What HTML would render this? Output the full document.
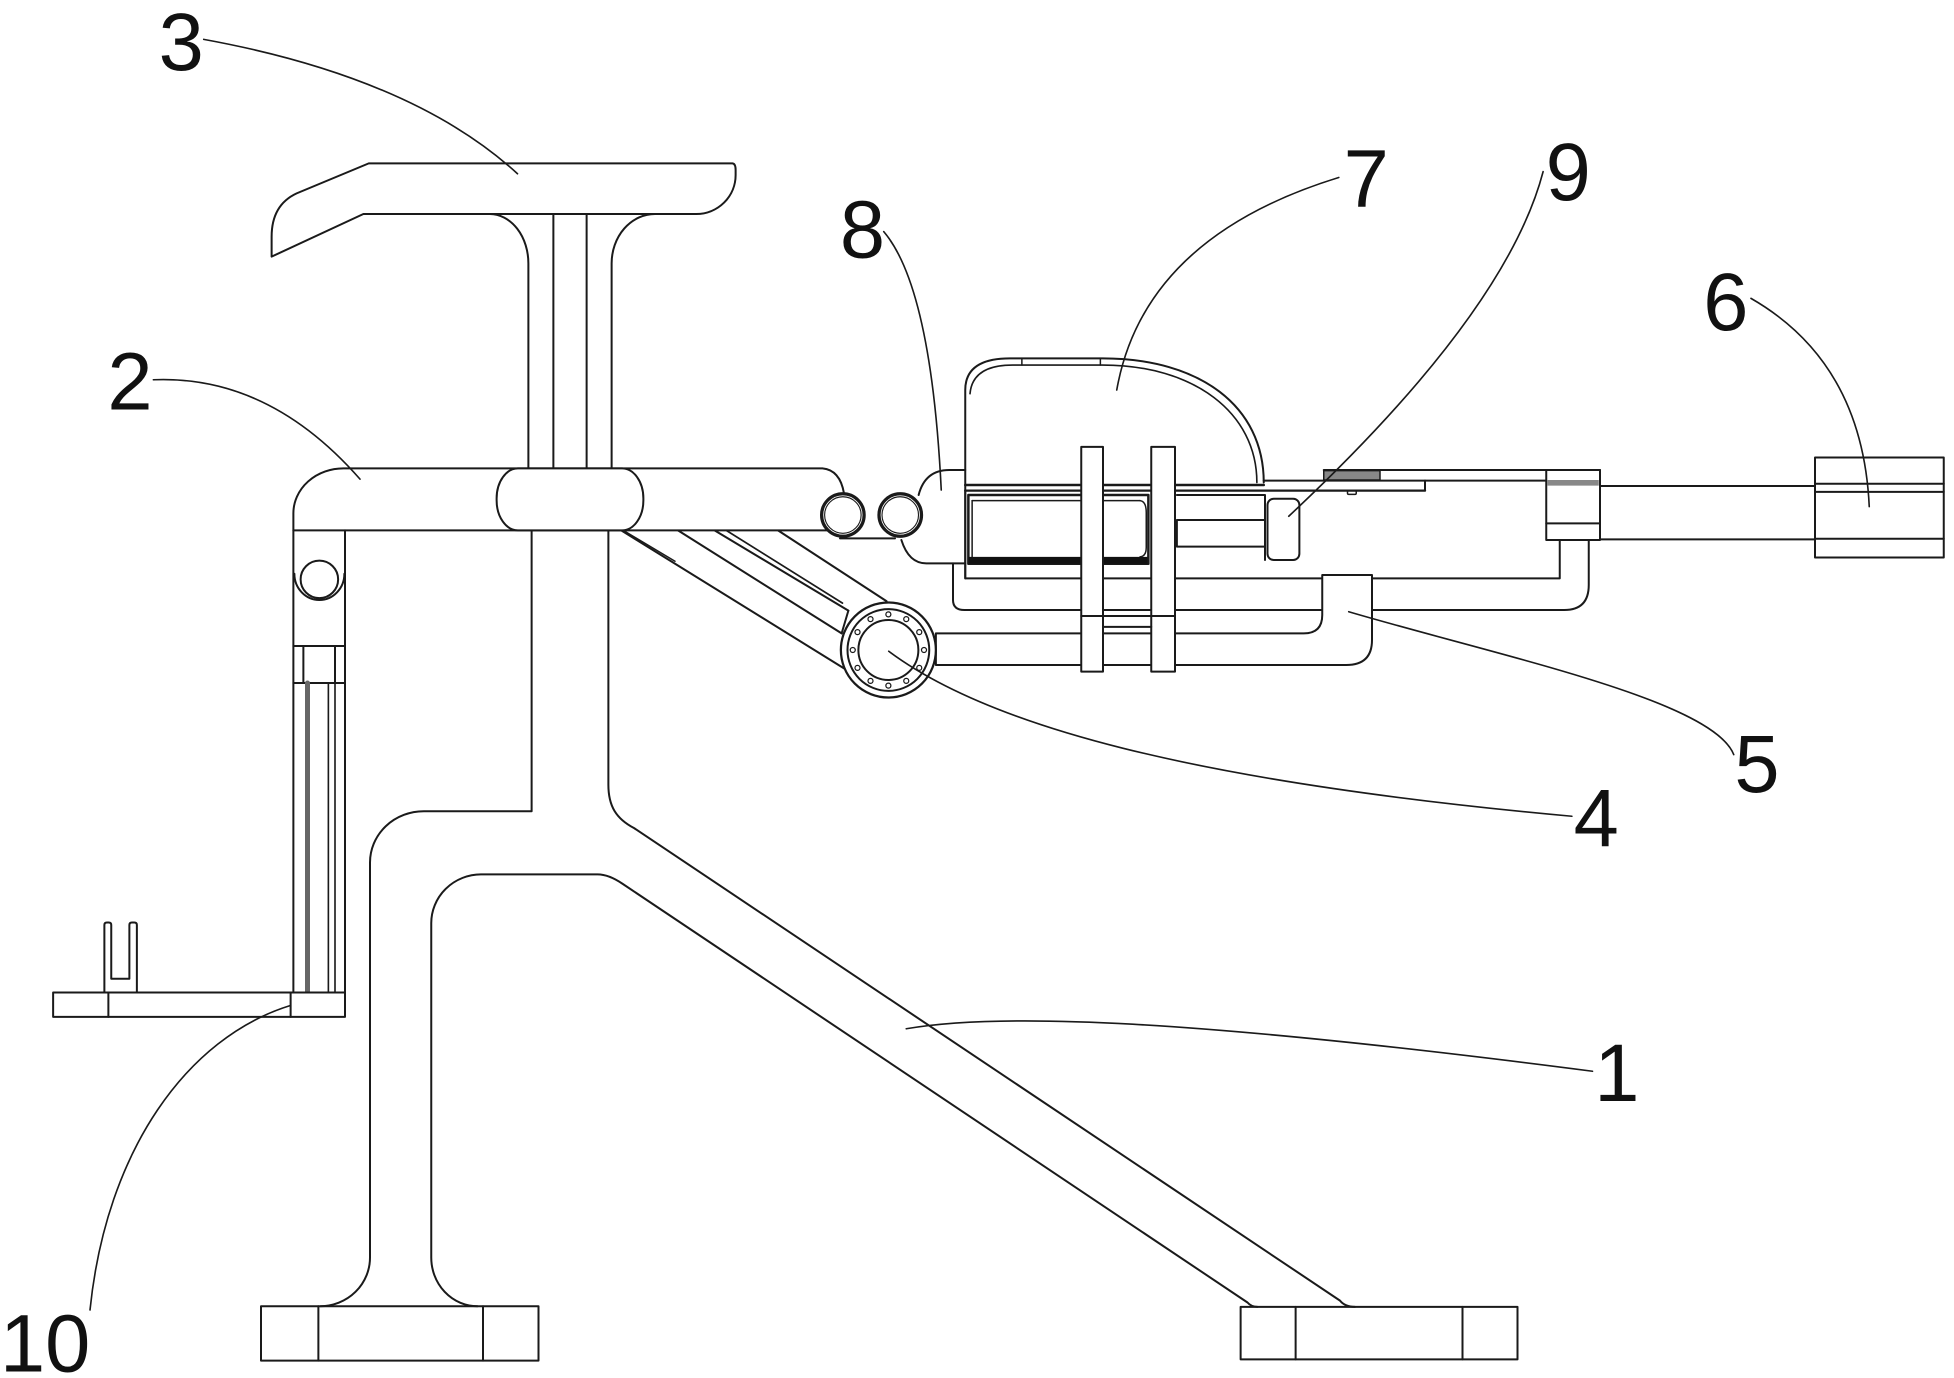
<!DOCTYPE html>
<html>
<head>
<meta charset="utf-8">
<style>
html,body{margin:0;padding:0;background:#fff;}
svg{display:block;}
text{font-family:"Liberation Sans",Arial,sans-serif;fill:#111;}
</style>
</head>
<body>
<svg xmlns="http://www.w3.org/2000/svg" width="1954" height="1378" viewBox="0 0 1563.2 1102.4">
<rect x="0" y="0" width="1563.2" height="1102.4" fill="#fff"/>
<g fill="none" stroke="#1a1a1a" stroke-width="1.6" stroke-linejoin="round" stroke-linecap="round">

<!-- Base leg (1) -->
<path d="M425.3 424 L425.3 649 L339 649 A43 41 0 0 0 296 690 L296 1005.7 A40 39 0 0 1 256.3 1045"/>
<path d="M486.7 424 L486.7 627.8 C486.7 645 493 655 507.3 662.5 L1072 1040.5 Q1076 1045.5 1084 1045.5"/>
<path d="M1006 1045.5 Q1001 1045.5 998 1042 L498 707 Q487 699.5 478 699.5 L384.8 699.5 A40 39 0 0 0 345 738.6 L345 1005.7 A37 39 0 0 0 382 1045"/>
<rect x="208.8" y="1045" width="222" height="43.5"/>
<line x1="254.7" y1="1045" x2="254.7" y2="1088.5"/>
<line x1="386.4" y1="1045" x2="386.4" y2="1088.5"/>
<rect x="992.5" y="1045.5" width="221.5" height="42"/>
<line x1="1036.5" y1="1045.5" x2="1036.5" y2="1087.5"/>
<line x1="1170" y1="1045.5" x2="1170" y2="1087.5"/>

<!-- Post above bar -->
<path d="M392 171.2 A31 39.5 0 0 1 422.7 210.7 L422.7 374.7"/>
<path d="M524 171.2 A34.7 39.5 0 0 0 489.3 210.7 L489.3 374.7"/>
<line x1="442.7" y1="171.2" x2="442.7" y2="374.7"/>
<line x1="469.3" y1="171.2" x2="469.3" y2="374.7"/>

<!-- Seat (3) -->
<path d="M295 130.7 L586 130.7 Q588.5 131 588.5 136 L588.5 140 A31.5 31.2 0 0 1 557 171.2 L290.7 171.2 L217.3 205.3 L217.3 189.3 Q217.3 164 237.3 154.7 Z" fill="#fff"/>

<!-- Bar (2) -->
<path d="M234.7 424.3 L234.7 410.7 A40 36 0 0 1 275 374.7 L658 374.7 Q672 376 675.2 394.7"/>
<line x1="234.7" y1="424.3" x2="662" y2="424.3"/>
<rect x="397.3" y="374.7" width="117.4" height="49.6" rx="17" ry="24" fill="#fff"/>

<!-- Leg assembly (10) -->
<line x1="234.7" y1="424.3" x2="234.7" y2="794"/>
<line x1="276" y1="424.3" x2="276" y2="794"/>
<line x1="234.7" y1="516.8" x2="276" y2="516.8"/>
<line x1="234.7" y1="546.4" x2="276" y2="546.4"/>
<line x1="242.7" y1="516.8" x2="242.7" y2="546.4"/>
<line x1="268" y1="516.8" x2="268" y2="546.4"/>
<line x1="246" y1="546.4" x2="246" y2="794" stroke="#666" stroke-width="4"/>
<line x1="262.7" y1="546.4" x2="262.7" y2="794" stroke-width="1.3"/>
<line x1="268" y1="546.4" x2="268" y2="794" stroke-width="1.3"/>
<circle cx="255.5" cy="463.5" r="15"/>
<path d="M235.5 459 A20 21 0 0 0 275.5 459"/>
<rect x="42.5" y="794" width="233.5" height="19.5" fill="#fff"/>
<line x1="86.7" y1="794" x2="86.7" y2="813.5"/>
<line x1="232.5" y1="794" x2="232.5" y2="813.5"/>
<path d="M83.5 794 L83.5 740 Q83.5 738 85.5 738 L87 738 Q89 738 89 740 L89 783 L103.5 783 L103.5 740 Q103.5 738 105.5 738 L107.5 738 Q109.5 738 109.5 740 L109.5 794"/>

<!-- Arm -->
<line x1="497.3" y1="424.5" x2="677.3" y2="536"/>
<line x1="499" y1="424.5" x2="540" y2="449" stroke-width="1.2"/>
<line x1="542.7" y1="424.5" x2="673.3" y2="506.7"/>
<line x1="572" y1="424.5" x2="678.7" y2="488.5"/>
<line x1="581.3" y1="424.5" x2="674" y2="482.5" stroke-width="1.3"/>
<line x1="622.7" y1="424.5" x2="709.3" y2="481"/>
<line x1="678.7" y1="488.5" x2="673.3" y2="506.7"/>

<!-- Frames -->
<path d="M772.2 392 L772.2 462.7 L1247.8 462.7 L1247.8 432"/>
<path d="M762.4 450.7 L762.4 480 Q762.4 488 771.6 488 L1251.4 488 Q1271 488 1271 468 L1271 432"/>

<!-- Part 5 -->
<path d="M748.7 506.7 L1043 506.7 Q1057.8 506.7 1057.8 492 L1057.8 460 L1097.6 460 L1097.6 512 Q1097.6 532 1077 532 L748.7 532 Z" fill="#fff"/>

<!-- Part 7 body -->
<path d="M772.2 462.7 L772.2 312 Q772.2 286.7 808 286.7 L882 286.7 C960 286.7 1011 325 1011 386"/>
<path d="M776 315 Q778 292 810 292 L882 292 C955 292 1005.5 330 1005.5 386" stroke-width="1.3"/>
<line x1="817.5" y1="286.7" x2="817.5" y2="292" stroke-width="1.2"/>
<line x1="880.3" y1="286.7" x2="880.3" y2="292" stroke-width="1.2"/>

<!-- rails -->
<line x1="772.2" y1="388" x2="1011" y2="388" stroke-width="2"/>
<line x1="772.2" y1="392.5" x2="1140" y2="392.5" stroke-width="1.8"/>
<line x1="1011" y1="384.5" x2="1239" y2="384.5"/>
<line x1="1140" y1="384.5" x2="1140" y2="392.5"/>
<line x1="1059" y1="376" x2="1280" y2="376"/>
<rect x="1059" y="376.5" width="45" height="7.5" fill="#888" stroke-width="1.2"/>
<rect x="1078" y="392.5" width="7" height="3" rx="1" stroke-width="1.2"/>

<!-- cylinder -->
<rect x="774.7" y="396" width="144" height="55" stroke-width="2"/>
<line x1="777.7" y1="400.5" x2="912" y2="400.5" stroke-width="1.2"/>
<line x1="777.7" y1="400.5" x2="777.7" y2="445.5" stroke-width="1.2"/>
<path d="M912 400.5 Q917 401 917 410 L917 438 Q917 445 912 445.5" stroke-width="1.2"/>
<rect x="775" y="445.5" width="143" height="5.5" fill="#111" stroke="none"/>

<!-- rod & 9 -->
<rect x="941.5" y="416" width="70.5" height="21.3"/>
<path d="M941.5 396 L1012 396 L1012 448"/>
<rect x="1014" y="399" width="25.5" height="49" rx="5"/>

<!-- right bracket -->
<rect x="1237" y="376" width="43" height="56" fill="#fff"/>
<rect x="1238" y="384" width="41" height="4.5" fill="#888" stroke="none"/>
<line x1="1237" y1="418.7" x2="1280" y2="418.7"/>

<!-- rod to 6 -->
<line x1="1280" y1="388.8" x2="1452" y2="388.8"/>
<line x1="1280" y1="431.5" x2="1452" y2="431.5"/>
<rect x="1452" y="366" width="103" height="80" fill="#fff"/>
<line x1="1452" y1="387" x2="1555" y2="387"/>
<line x1="1452" y1="393.5" x2="1555" y2="393.5"/>
<line x1="1452" y1="431" x2="1555" y2="431"/>

<!-- clamp plates -->
<rect x="865" y="357.5" width="17.4" height="179.8" fill="#fff"/>
<rect x="921" y="357.5" width="19" height="179.8" fill="#fff"/>
<line x1="865" y1="492.8" x2="940" y2="492.8"/>
<line x1="882.4" y1="501.5" x2="921" y2="501.5"/>

<!-- part 8 and hinge circles -->
<path d="M734.9 396 Q740 376 759.4 376 L772.2 376"/>
<path d="M721.1 432 Q727 450.7 741 450.7 L772.2 450.7"/>
<line x1="672" y1="430.7" x2="716" y2="430.7"/>
<circle cx="674.3" cy="412" r="17" fill="#fff" stroke-width="2.6"/>
<circle cx="674.3" cy="412" r="14.6" stroke-width="0.9"/>
<circle cx="720.2" cy="412" r="17" fill="#fff" stroke-width="2.6"/>
<circle cx="720.2" cy="412" r="14.6" stroke-width="0.9"/>

<!-- part 4 circle -->
<circle cx="710.7" cy="520" r="38" fill="#fff" stroke-width="1.8"/>
<circle cx="710.7" cy="520" r="32.7"/>
<circle cx="710.7" cy="520" r="24"/>
<g stroke-width="1">
<circle cx="739.2" cy="520" r="2"/>
<circle cx="735.4" cy="534.3" r="2"/>
<circle cx="725" cy="544.7" r="2"/>
<circle cx="710.7" cy="548.5" r="2"/>
<circle cx="696.4" cy="544.7" r="2"/>
<circle cx="686" cy="534.3" r="2"/>
<circle cx="682.2" cy="520" r="2"/>
<circle cx="686" cy="505.7" r="2"/>
<circle cx="696.4" cy="495.3" r="2"/>
<circle cx="710.7" cy="491.5" r="2"/>
<circle cx="725" cy="495.3" r="2"/>
<circle cx="735.4" cy="505.7" r="2"/>
</g>

<!-- leaders -->
<g stroke-width="1.3">
<path d="M163 31.5 Q330 62 414 139"/>
<path d="M122.7 303.8 Q215 300 288 383.3"/>
<path d="M707 185.3 Q745 230 753 392"/>
<path d="M1071 142 Q915 190 893.4 312"/>
<path d="M1234.5 137.3 Q1205 250 1031 413"/>
<path d="M1400.8 238.7 Q1490 290 1495.4 405.3"/>
<path d="M1079 489.4 C1200 525 1370 560 1387 603.7"/>
<path d="M711 521 C790 580 950 625 1257.5 653"/>
<path d="M725 823 C800 810 950 815 1274 857"/>
<path d="M72 1048 C85 920 150 830 232 804.5"/>
</g>
</g>

<g font-size="65" text-anchor="middle">
<text x="145" y="56">3</text>
<text x="104" y="327.6">2</text>
<text x="690" y="206">8</text>
<text x="1093" y="165.3">7</text>
<text x="1254.6" y="160">9</text>
<text x="1380.7" y="264">6</text>
<text x="1405.6" y="633.7">5</text>
<text x="1277" y="676.6">4</text>
<text x="1293.5" y="880.9">1</text>
<text x="0" y="1097" text-anchor="start">10</text>
</g>
</svg>
</body>
</html>
